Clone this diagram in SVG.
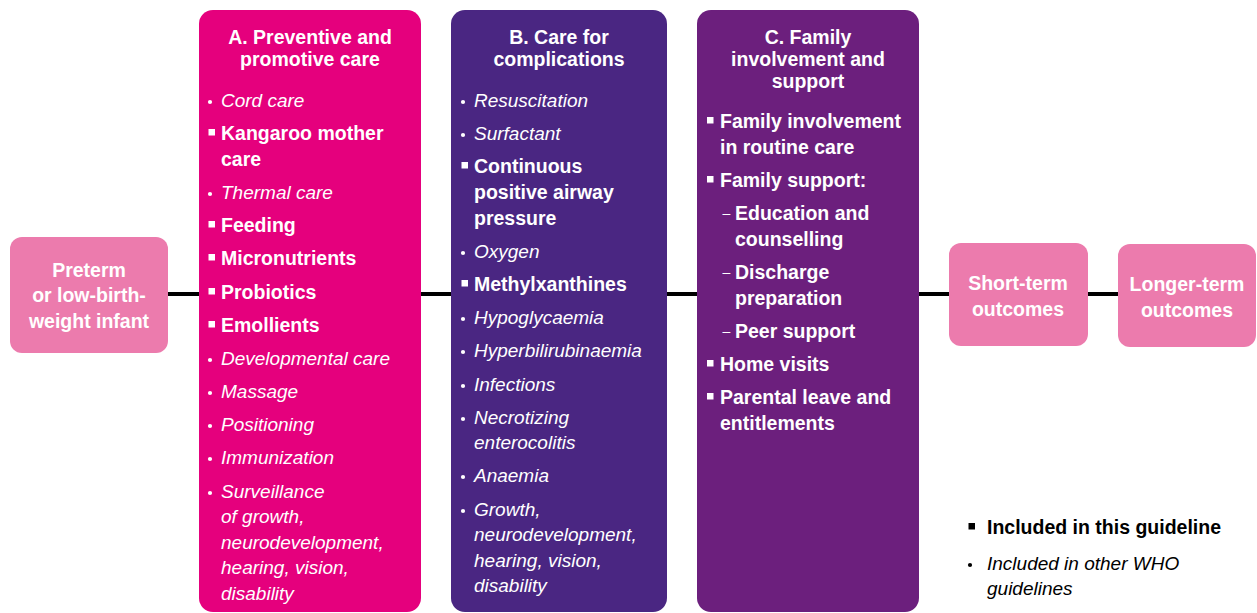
<svg xmlns="http://www.w3.org/2000/svg" width="1257" height="613" viewBox="0 0 1257 613">
<style>
text{font-family:"Liberation Sans",Arial,sans-serif;fill:#fff}
.t{font-weight:bold;font-size:19.5px;text-anchor:middle}
.b{font-weight:bold;font-size:19.5px}
.i{font-style:italic;font-size:19px}
.d{font-size:14px}
.k{fill:#000}
.sq{fill:#fff}
.dot{fill:#fff}
.lk{fill:#000}
</style>
<rect width="1257" height="613" fill="#fff"/>
<g id="connectors">
<line x1="166" y1="294" x2="1120" y2="294" stroke="#000" stroke-width="4"/>
</g>
<g id="preterm">
<rect x="10" y="237" width="158" height="116" rx="12" fill="#EC7BAD"/>
<text class="t" x="89" y="277">Preterm</text>
<text class="t" x="89" y="302">or low-birth-</text>
<text class="t" x="89" y="328">weight infant</text>
</g>
<g id="boxA">
<rect x="199" y="10" width="222" height="602" rx="14" fill="#E5007D"/>
<text class="t" x="310" y="44">A. Preventive and</text>
<text class="t" x="310" y="66">promotive care</text>
<circle class="dot" cx="210" cy="102" r="2.1"/><text class="i" x="221" y="107">Cord care</text>
<rect class="sq" x="208.5" y="129" width="6.5" height="6.5"/><text class="b" x="221" y="140">Kangaroo mother</text>
<text class="b" x="221" y="166">care</text>
<circle class="dot" cx="210" cy="194" r="2.1"/><text class="i" x="221" y="199">Thermal care</text>
<rect class="sq" x="208.5" y="221" width="6.5" height="6.5"/><text class="b" x="221" y="232">Feeding</text>
<rect class="sq" x="208.5" y="254" width="6.5" height="6.5"/><text class="b" x="221" y="265">Micronutrients</text>
<rect class="sq" x="208.5" y="288" width="6.5" height="6.5"/><text class="b" x="221" y="299">Probiotics</text>
<rect class="sq" x="208.5" y="321" width="6.5" height="6.5"/><text class="b" x="221" y="332">Emollients</text>
<circle class="dot" cx="210" cy="360" r="2.1"/><text class="i" x="221" y="365">Developmental care</text>
<circle class="dot" cx="210" cy="393" r="2.1"/><text class="i" x="221" y="398">Massage</text>
<circle class="dot" cx="210" cy="426" r="2.1"/><text class="i" x="221" y="431">Positioning</text>
<circle class="dot" cx="210" cy="459" r="2.1"/><text class="i" x="221" y="464">Immunization</text>
<circle class="dot" cx="210" cy="493" r="2.1"/><text class="i" x="221" y="498">Surveillance</text>
<text class="i" x="221" y="523">of growth,</text>
<text class="i" x="221" y="549">neurodevelopment,</text>
<text class="i" x="221" y="574">hearing, vision,</text>
<text class="i" x="221" y="600">disability</text>
</g>
<g id="boxB">
<rect x="451" y="10" width="216" height="602" rx="14" fill="#4A2682"/>
<text class="t" x="559" y="44">B. Care for</text>
<text class="t" x="559" y="66">complications</text>
<circle class="dot" cx="463" cy="102" r="2.1"/><text class="i" x="474" y="107">Resuscitation</text>
<circle class="dot" cx="463" cy="135" r="2.1"/><text class="i" x="474" y="140">Surfactant</text>
<rect class="sq" x="461.5" y="162" width="6.5" height="6.5"/><text class="b" x="474" y="173">Continuous</text>
<text class="b" x="474" y="199">positive airway</text>
<text class="b" x="474" y="225">pressure</text>
<circle class="dot" cx="463" cy="253" r="2.1"/><text class="i" x="474" y="258">Oxygen</text>
<rect class="sq" x="461.5" y="280" width="6.5" height="6.5"/><text class="b" x="474" y="291">Methylxanthines</text>
<circle class="dot" cx="463" cy="319" r="2.1"/><text class="i" x="474" y="324">Hypoglycaemia</text>
<circle class="dot" cx="463" cy="352" r="2.1"/><text class="i" x="474" y="357">Hyperbilirubinaemia</text>
<circle class="dot" cx="463" cy="386" r="2.1"/><text class="i" x="474" y="391">Infections</text>
<circle class="dot" cx="463" cy="419" r="2.1"/><text class="i" x="474" y="424">Necrotizing</text>
<text class="i" x="474" y="449">enterocolitis</text>
<circle class="dot" cx="463" cy="477" r="2.1"/><text class="i" x="474" y="482">Anaemia</text>
<circle class="dot" cx="463" cy="511" r="2.1"/><text class="i" x="474" y="516">Growth,</text>
<text class="i" x="474" y="541">neurodevelopment,</text>
<text class="i" x="474" y="567">hearing, vision,</text>
<text class="i" x="474" y="592">disability</text>
</g>
<g id="boxC">
<rect x="697" y="10" width="222" height="602" rx="14" fill="#6C1F7D"/>
<text class="t" x="808" y="44">C. Family</text>
<text class="t" x="808" y="66">involvement and</text>
<text class="t" x="808" y="88">support</text>
<rect class="sq" x="707" y="117" width="6.5" height="6.5"/><text class="b" x="720" y="128">Family involvement</text>
<text class="b" x="720" y="154">in routine care</text>
<rect class="sq" x="707" y="176" width="6.5" height="6.5"/><text class="b" x="720" y="187">Family support:</text>
<text class="d" x="722.5" y="218">–</text><text class="b" x="735" y="220">Education and</text>
<text class="b" x="735" y="246">counselling</text>
<text class="d" x="722.5" y="277">–</text><text class="b" x="735" y="279">Discharge</text>
<text class="b" x="735" y="305">preparation</text>
<text class="d" x="722.5" y="336">–</text><text class="b" x="735" y="338">Peer support</text>
<rect class="sq" x="707" y="360" width="6.5" height="6.5"/><text class="b" x="720" y="371">Home visits</text>
<rect class="sq" x="707" y="393" width="6.5" height="6.5"/><text class="b" x="720" y="404">Parental leave and</text>
<text class="b" x="720" y="430">entitlements</text>
</g>
<g id="shortterm">
<rect x="949" y="243" width="139" height="103" rx="12" fill="#EC7BAD"/>
<text class="t" x="1018" y="290">Short-term</text>
<text class="t" x="1018" y="316">outcomes</text>
</g>
<g id="longerterm">
<rect x="1118" y="244" width="138" height="103" rx="12" fill="#EC7BAD"/>
<text class="t" x="1187" y="291">Longer-term</text>
<text class="t" x="1187" y="317">outcomes</text>
</g>
<g id="legend">
<rect class="lk" x="968.5" y="523" width="6.5" height="6.5"/><text class="b k" x="987" y="534">Included in this guideline</text>
<circle class="lk" cx="970" cy="565" r="2.1"/><text class="i k" x="987" y="570">Included in other WHO</text>
<text class="i k" x="987" y="595">guidelines</text>
</g>
</svg>
